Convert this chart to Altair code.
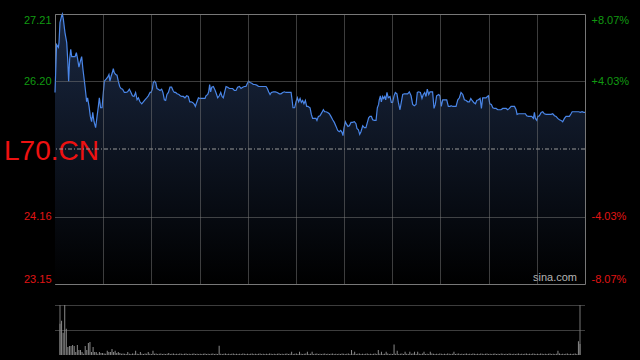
import altair as alt
import pandas as pd

# ---------------- data ----------------
prev_close = 25.18
price_ticks = [23.15, 24.16, 26.20, 27.21]
pct_ticks = [-8.07, -4.03, 4.03, 8.07]
time_grid = [30, 60, 90, 120, 150, 180, 210, 240, 270, 300]

t_a = [0, 1.0, 2.1, 2.5, 3.1, 4.2, 4.6, 5.2, 6.2, 7.3,
       7.9, 8.5, 9.1, 9.8, 10.4, 11.4, 12.5, 13.3, 14.1, 14.9,
       15.8, 16.6, 17.4, 18.3, 19.1, 19.7, 20.3, 21.2, 22.0, 22.8,
       23.5, 24.3, 25.3, 26.2, 27.0, 27.6, 28.4, 29.3, 30.1, 30.7,
       31.8, 32.8, 33.6, 34.2, 34.9, 35.7, 36.3, 36.9, 37.8, 38.6,
       39.4, 40.3, 41.1, 42.1, 43.2, 44.2, 45.2, 46.3, 47.3, 48.2,
       49.2, 50.2, 51.1, 51.9, 52.9, 54.0, 55.0, 56.0, 57.1, 58.1,
       59.2, 59.8, 60.6, 61.2, 61.9, 62.7, 63.5, 64.3, 65.4, 66.4,
       67.2, 68.1, 68.9, 69.7, 70.6, 71.6, 72.6, 73.5, 74.3, 75.1,
       76.0, 77.2, 78.0, 78.9, 79.9, 80.9, 82.0, 83.0, 83.9]
p_a = [26.03, 26.75, 26.71, 26.78, 27.08, 27.19, 27.21, 27.13, 26.93, 26.78,
       26.53, 26.20, 26.53, 26.68, 26.57, 26.57, 26.57, 26.63, 26.53, 26.41,
       26.50, 26.57, 26.38, 26.20, 26.03, 25.89, 25.95, 25.82, 25.67, 25.59,
       25.73, 25.59, 25.50, 25.67, 25.82, 25.95, 25.80, 25.80, 26.03, 26.20,
       26.23, 26.26, 26.30, 26.20, 26.27, 26.33, 26.39, 26.33, 26.30, 26.29,
       26.20, 26.12, 26.09, 26.08, 26.03, 26.03, 26.04, 26.08, 26.03, 25.98,
       25.97, 26.03, 25.92, 25.95, 25.89, 25.86, 25.89, 25.92, 25.95, 25.98,
       26.03, 26.03, 26.08, 26.18, 26.20, 26.18, 26.09, 26.08, 26.06, 26.08,
       26.03, 25.92, 25.91, 26.00, 26.03, 26.11, 26.11, 26.06, 26.03, 26.03,
       26.01, 26.00, 25.98, 25.97, 25.97, 25.95, 25.98, 25.97, 25.89]

t_b = [84.7, 85.7, 86.8, 87.4, 88.2, 89.3, 90.3, 91.3, 92.4, 93.4,
       94.0, 95.1, 95.7, 96.3, 96.9, 97.6, 98.6, 99.4, 100.2, 101.3,
       102.3, 103.2, 104.0, 104.8, 105.6, 106.5, 107.5, 108.6, 109.6, 110.6,
       111.7, 112.7, 113.7, 114.8, 115.8, 116.9, 117.9, 118.9, 119.8, 120.6,
       121.4, 122.5, 123.5, 124.5, 125.6, 126.8, 128.3, 129.7, 131.4, 132.2,
       133.0, 133.9, 134.7, 136.0, 137.2, 138.4, 139.7, 140.7, 141.8, 142.8,
       143.8, 144.9, 146.0, 147.0, 147.6, 148.2, 149.2, 150.1, 150.9, 151.7,
       152.6, 153.4, 154.2, 155.0, 155.9, 156.7, 157.5, 158.8, 159.6, 160.4,
       161.5, 162.5, 163.1, 164.0, 165.0]
p_b = [25.89, 25.88, 25.85, 25.82, 25.88, 25.95, 25.94, 25.94, 25.94, 25.94,
       25.98, 26.00, 26.04, 26.15, 26.04, 26.11, 26.12, 26.08, 26.03, 25.95,
       25.98, 26.03, 25.97, 25.95, 26.03, 26.12, 26.11, 26.09, 26.09, 26.09,
       26.06, 26.06, 26.11, 26.12, 26.09, 26.11, 26.12, 26.12, 26.17, 26.20,
       26.18, 26.17, 26.15, 26.15, 26.14, 26.12, 26.12, 26.12, 26.12, 26.09,
       26.04, 26.00, 26.03, 26.04, 26.04, 26.03, 26.01, 26.01, 26.03, 26.04,
       26.03, 26.03, 26.03, 26.03, 25.92, 25.80, 25.80, 25.89, 25.95, 25.89,
       25.94, 25.88, 25.91, 25.86, 25.91, 25.82, 25.82, 25.80, 25.70, 25.64,
       25.64, 25.64, 25.61, 25.67, 25.68]

t_c = [166.2, 167.1, 167.9, 168.7, 169.8, 170.8, 171.8, 172.9, 173.9, 175.0,
       176.0, 177.0, 177.9, 178.7, 179.3, 179.9, 180.8, 181.6, 182.4, 183.3,
       184.3, 185.3, 186.4, 187.4, 188.0, 188.9, 189.7, 190.5, 191.6, 192.6,
       193.6, 194.5, 195.3, 196.1, 197.0, 197.8, 198.8, 199.9, 200.7, 201.5,
       201.9, 202.6, 203.2, 204.0, 204.6, 205.3, 205.9, 206.7, 207.5, 208.6,
       209.4, 210.2, 211.1, 211.9, 212.9, 213.8, 214.8, 215.6, 216.5, 217.5,
       218.5, 219.6, 220.6, 221.7, 222.7, 223.7, 224.8, 225.6, 226.4, 227.5,
       228.5, 229.3, 230.2, 231.0, 231.8, 232.7, 233.5, 234.3, 235.1, 236.0,
       236.8, 237.6, 238.9, 239.7, 240.5, 241.4, 242.6, 243.9, 244.9, 246.0]
p_c = [25.73, 25.77, 25.74, 25.74, 25.73, 25.71, 25.67, 25.62, 25.58, 25.52,
       25.46, 25.44, 25.46, 25.43, 25.38, 25.49, 25.59, 25.55, 25.52, 25.53,
       25.58, 25.58, 25.59, 25.56, 25.49, 25.47, 25.40, 25.44, 25.53, 25.50,
       25.50, 25.58, 25.65, 25.67, 25.67, 25.62, 25.61, 25.61, 25.80, 25.85,
       25.92, 25.98, 25.89, 25.97, 25.94, 25.97, 25.92, 26.03, 25.95, 25.97,
       25.88, 25.88, 25.98, 26.03, 26.01, 25.88, 25.77, 25.88, 26.00, 26.01,
       26.01, 26.01, 26.04, 25.98, 25.85, 25.83, 25.85, 26.03, 26.04, 26.03,
       25.94, 26.00, 26.03, 25.97, 26.08, 26.00, 26.04, 26.04, 26.04, 25.79,
       25.85, 25.98, 26.00, 25.98, 25.82, 25.92, 25.92, 25.92, 25.82, 25.82]

t_d = [246.6, 247.7, 248.7, 249.7, 250.8, 251.8, 252.8, 253.9, 254.9, 256.0,
       257.0, 258.0, 258.9, 259.7, 260.7, 261.8, 262.6, 263.6, 264.7, 265.5,
       266.3, 267.4, 268.4, 269.2, 269.9, 270.7, 271.7, 272.6, 273.6, 274.6,
       275.7, 276.7, 277.7, 278.8, 279.8, 280.9, 281.9, 282.9, 284.0, 285.0,
       286.1, 287.1, 287.7, 288.7, 289.8, 290.8, 291.9, 292.9, 293.7, 294.8,
       295.8, 296.8, 297.9, 298.5, 299.1, 300.0, 300.6, 301.6, 302.7, 303.7,
       304.7, 305.8, 306.8, 307.8, 308.9, 309.9, 311.0, 312.0, 313.0, 314.1,
       315.1, 316.1, 317.2, 318.2, 319.3, 320.3, 321.3, 322.0, 323.0, 324.0,
       325.1, 326.1, 327.1, 328.2, 329.2, 330.0]
p_d = [25.83, 25.82, 25.82, 25.82, 25.92, 25.95, 26.03, 26.00, 25.92, 25.91,
       25.89, 25.89, 25.94, 25.91, 25.88, 25.86, 25.91, 25.92, 25.94, 25.79,
       25.95, 25.95, 25.95, 25.97, 25.98, 25.86, 25.85, 25.80, 25.79, 25.79,
       25.77, 25.77, 25.77, 25.79, 25.79, 25.79, 25.77, 25.79, 25.82, 25.82,
       25.82, 25.77, 25.70, 25.71, 25.71, 25.71, 25.71, 25.71, 25.68, 25.67,
       25.67, 25.67, 25.64, 25.73, 25.64, 25.61, 25.67, 25.68, 25.73, 25.74,
       25.71, 25.70, 25.70, 25.70, 25.70, 25.71, 25.68, 25.67, 25.64, 25.62,
       25.61, 25.59, 25.64, 25.67, 25.67, 25.67, 25.71, 25.74, 25.74, 25.74,
       25.74, 25.74, 25.73, 25.74, 25.73, 25.73]

volume = [310, 340, 220, 496, 260, 80, 90, 90, 100, 90,
          30, 100, 50, 50, 30, 12, 90, 50, 120, 130,
          30, 80, 30, 30, 12, 30, 20, 20, 15, 12,
          43, 30, 30, 60, 30, 43, 20, 30, 20, 12,
          15, 12, 10, 30, 12, 10, 15, 12, 43, 12,
          10, 30, 12, 10, 15, 12, 30, 12, 10, 43,
          12, 15, 10, 12, 15, 10, 12, 10, 12, 20,
          10, 12, 15, 10, 12, 10, 15, 12, 10, 12,
          15, 10, 12, 10, 12, 15, 10, 12, 10, 12,
          10, 12, 15, 10, 12, 10, 12, 15, 10, 12,
          10, 93, 12, 10, 12, 15, 10, 12, 10, 12,
          15, 10, 12, 10, 12, 10, 15, 12, 10, 12,
          10, 12, 15, 10, 12, 10, 12, 15, 10, 12,
          10, 12, 10, 15, 12, 10, 12, 10, 12, 15,
          10, 12, 10, 12, 15, 10, 12, 33, 10, 12,
          15, 10, 33, 12, 10, 12, 15, 33, 10, 12,
          33, 10, 12, 15, 10, 12, 10, 12, 15, 10,
          12, 10, 12, 15, 10, 12, 10, 12, 10, 15,
          12, 10, 12, 15, 10, 50, 12, 33, 10, 12,
          15, 10, 12, 10, 12, 15, 10, 12, 10, 12,
          15, 10, 50, 12, 33, 10, 12, 33, 15, 10,
          12, 10, 103, 12, 43, 10, 12, 15, 10, 33,
          12, 10, 33, 12, 15, 33, 10, 33, 12, 10,
          15, 33, 10, 12, 10, 33, 15, 12, 10, 12,
          10, 15, 12, 10, 12, 10, 15, 12, 10, 12,
          33, 10, 12, 15, 10, 12, 10, 12, 15, 10,
          12, 10, 15, 12, 10, 12, 10, 15, 12, 10,
          12, 15, 10, 12, 10, 12, 15, 10, 12, 10,
          15, 12, 10, 12, 10, 15, 12, 10, 12, 10,
          12, 15, 10, 12, 10, 12, 15, 10, 12, 10,
          15, 12, 10, 12, 10, 15, 12, 10, 12, 10,
          12, 15, 10, 12, 10, 12, 43, 15, 10, 12,
          10, 12, 15, 10, 12, 10, 12, 15, 10, 137,
          110]

ticker = "L70.CN"
source = "sina.com"

# ---------------- tables ----------------
price_df = pd.DataFrame({"t": t_a + t_b + t_c + t_d, "price": p_a + p_b + p_c + p_d})
vol_df = pd.DataFrame({"t": list(range(len(volume))), "vol": volume})

GREEN = "#119a11"
RED = "#e01414"
GRID = "#7a7a7a"
FONT = "Liberation Sans"
T_MAX = 330

x_scale = alt.Scale(domain=[0, T_MAX], nice=False, zero=False)
p_scale = alt.Scale(domain=[price_ticks[0], price_ticks[-1]], nice=False, zero=False)

x_main = alt.X("t:Q", scale=x_scale, axis=alt.Axis(
    values=time_grid, grid=True, gridDash=[1, 1], gridColor=GRID, gridOpacity=1,
    labels=False, ticks=False, domain=False, title=None, zindex=1))
y_main = alt.Y("price:Q", scale=p_scale, axis=alt.Axis(
    values=price_ticks, format=".2f", grid=True, gridDash=[1, 1], gridColor=GRID,
    gridOpacity=1, ticks=False, domain=False, title=None, labelFlush=True,
    labelPadding=4, labelFontSize=11, labelFont=FONT,
    labelColor={"condition": {"test": f"datum.value > {prev_close}", "value": GREEN}, "value": RED},
    zindex=1))

area = alt.Chart(price_df).mark_area(
    color=alt.Gradient(gradient="linear", x1=0, x2=0, y1=0, y2=1,
                       stops=[alt.GradientStop(color="#1a2842", offset=0),
                              alt.GradientStop(color="#000000", offset=1)])
).encode(x=x_main, y=y_main, y2=alt.Y2(datum=price_ticks[0]))

line = alt.Chart(price_df).mark_line(color="#4a86e8", strokeWidth=1.2).encode(
    x=alt.X("t:Q", scale=x_scale), y=alt.Y("price:Q", scale=p_scale))

ticker_text = alt.Chart(pd.DataFrame({"label": [ticker]})).mark_text(
    align="left", baseline="alphabetic", fontSize=28, color="#ee1111", font=FONT
).encode(text="label:N", x=alt.value(-51), y=alt.value(146))

source_text = alt.Chart(pd.DataFrame({"label": [source]})).mark_text(
    align="left", baseline="alphabetic", fontSize=11, color="#b4b4b4", font=FONT
).encode(text="label:N", x=alt.value(478), y=alt.value(267))

price_layer = alt.layer(area, line, ticker_text, source_text)

pct_layer = alt.Chart(pd.DataFrame({"pct": [0.0]})).mark_rule(
    color="#9a9a9a", strokeDash=[4, 2, 1, 2], strokeWidth=1
).encode(y=alt.Y("pct:Q", scale=alt.Scale(domain=[pct_ticks[0], pct_ticks[-1]], nice=False, zero=False),
                 axis=alt.Axis(orient="right", values=pct_ticks, grid=False, ticks=False, domain=False,
                               title=None, labelFlush=True, labelPadding=6, labelFontSize=11,
                               labelFont=FONT,
                               labelExpr="(datum.value > 0 ? '+' : '-') + format(abs(datum.value), '.2f') + '%'",
                               labelColor={"condition": {"test": "datum.value > 0", "value": GREEN}, "value": RED})))

main = alt.layer(price_layer, pct_layer).resolve_scale(y="independent").properties(
    width=530, height=270)

vmax = max(volume)
bars = alt.Chart(vol_df).mark_bar(color="#8a8a8a", width=1).encode(
    x=alt.X("t:Q", scale=x_scale, axis=None),
    y=alt.Y("vol:Q", scale=alt.Scale(domain=[0, vmax], nice=False),
            axis=alt.Axis(values=[vmax / 2, vmax], grid=True, gridDash=[1, 1], gridColor=GRID,
                          labels=False, ticks=False, domain=False, title=None)))
edges = alt.Chart(pd.DataFrame({"edge": [0, T_MAX]})).mark_rule(color="#777777").encode(
    x=alt.X("edge:Q", scale=x_scale, axis=None))
vol = alt.layer(bars, edges).properties(width=530, height=50,
                                        view=alt.ViewBackground(strokeOpacity=0))

chart = alt.vconcat(main, vol, spacing=19).properties(
    padding={"left": 3, "top": 11, "right": 5, "bottom": 0},
    background="#000000"
).configure_view(stroke="#777777", strokeWidth=1)

chart.save("out.html", embed_options={"renderer": "svg", "actions": False,
                                      "defaultStyle": "body{margin:0;background:#000000;}"})
